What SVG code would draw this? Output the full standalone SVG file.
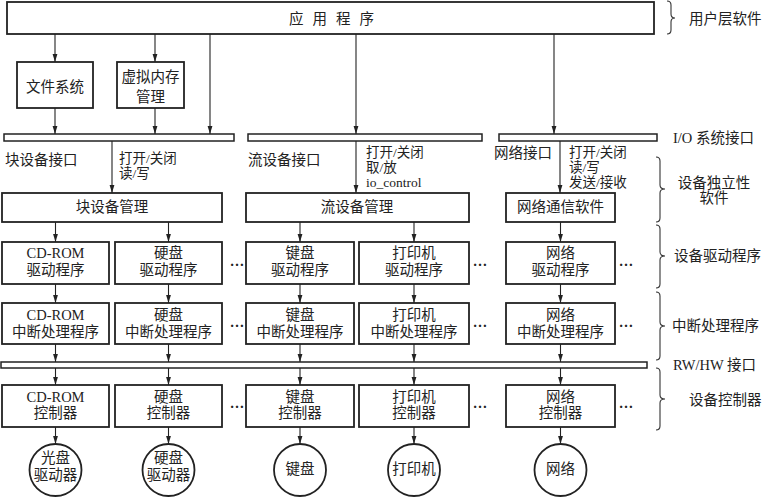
<svg xmlns="http://www.w3.org/2000/svg" width="764" height="497" viewBox="0 0 764 497">
<style>
.b{fill:#fff;stroke:#222;stroke-width:1.8}
.bar{fill:#fff;stroke:#222;stroke-width:1.5}
.l{stroke:#222;stroke-width:1.1;fill:none}
.br{stroke:#333;stroke-width:1.1;fill:none}
text{font-family:"Liberation Serif","Noto Sans CJK SC",serif;font-size:14.5px;fill:#222}
.s{font-size:13.5px}
.c{text-anchor:middle}
.d{font-weight:bold}
</style>
<defs>
<marker id="ah" viewBox="0 0 8 8" refX="8" refY="4" markerWidth="8" markerHeight="8" markerUnits="userSpaceOnUse" orient="auto"><path d="M0,1.6 L8,4 L0,6.4 z" fill="#222"/></marker>
</defs>
<rect width="764" height="497" fill="#fff"/>

<g id="app"><rect class="b" x="7" y="2" width="647" height="32"/><text x="289" y="24" letter-spacing="9">应用程序</text></g>
<g id="fs"><rect class="b" x="17" y="62" width="76" height="46"/><text class="c" x="55" y="92">文件系统</text></g>
<g id="vm"><rect class="b" x="117" y="62" width="67" height="46"/><text class="c" x="150.5" y="82">虚拟内存</text><text class="c" x="150.5" y="102">管理</text></g>

<g id="bar1"><rect class="bar" x="4" y="134" width="230" height="7"/></g>
<g id="bar2"><rect class="bar" x="248" y="134" width="234" height="7"/></g>
<g id="bar3"><rect class="bar" x="499" y="134" width="158" height="7"/></g>

<g id="lbl-block"><text x="5" y="165">块设备接口</text><text class="s" x="119" y="163">打开/关闭</text><text class="s" x="119" y="178">读/写</text></g>
<g id="lbl-stream"><text x="248" y="165">流设备接口</text><text class="s" x="366" y="157">打开/关闭</text><text class="s" x="366" y="172">取/放</text><text class="s" x="366" y="187">io_control</text></g>
<g id="lbl-net"><text x="494" y="158">网络接口</text><text class="s" x="569" y="157">打开/关闭</text><text class="s" x="569" y="172">读/写</text><text class="s" x="569" y="187">发送/接收</text></g>

<g id="blkmgr"><rect class="b" x="2" y="193" width="220" height="29"/><text class="c" x="112" y="212">块设备管理</text></g>
<g id="strmgr"><rect class="b" x="246" y="193" width="223" height="29"/><text class="c" x="357" y="212">流设备管理</text></g>
<g id="netsw"><rect class="b" x="506" y="193" width="109" height="29"/><text class="c" x="560.5" y="212">网络通信软件</text></g>

<g id="drv-cd"><rect class="b" x="2" y="242" width="107" height="42"/><text class="c" x="55.5" y="258">CD-ROM</text><text class="c" x="55.5" y="275">驱动程序</text></g>
<g id="drv-hd"><rect class="b" x="115" y="242" width="107" height="42"/><text class="c" x="168.5" y="258">硬盘</text><text class="c" x="168.5" y="275">驱动程序</text></g>
<g id="drv-kb"><rect class="b" x="246" y="242" width="108" height="42"/><text class="c" x="300" y="258">键盘</text><text class="c" x="300" y="275">驱动程序</text></g>
<g id="drv-pr"><rect class="b" x="359" y="242" width="110" height="42"/><text class="c" x="414" y="258">打印机</text><text class="c" x="414" y="275">驱动程序</text></g>
<g id="drv-net"><rect class="b" x="506" y="242" width="109" height="42"/><text class="c" x="560.5" y="258">网络</text><text class="c" x="560.5" y="275">驱动程序</text></g>

<g id="int-cd"><rect class="b" x="2" y="303" width="107" height="41"/><text class="c" x="55.5" y="320">CD-ROM</text><text class="c" x="55.5" y="337">中断处理程序</text></g>
<g id="int-hd"><rect class="b" x="115" y="303" width="107" height="41"/><text class="c" x="168.5" y="320">硬盘</text><text class="c" x="168.5" y="337">中断处理程序</text></g>
<g id="int-kb"><rect class="b" x="246" y="303" width="108" height="41"/><text class="c" x="300" y="320">键盘</text><text class="c" x="300" y="337">中断处理程序</text></g>
<g id="int-pr"><rect class="b" x="359" y="303" width="110" height="41"/><text class="c" x="414" y="320">打印机</text><text class="c" x="414" y="337">中断处理程序</text></g>
<g id="int-net"><rect class="b" x="506" y="303" width="109" height="41"/><text class="c" x="560.5" y="320">网络</text><text class="c" x="560.5" y="337">中断处理程序</text></g>

<g id="rwhw"><rect class="bar" x="1" y="362" width="646" height="6"/></g>

<g id="ctl-cd"><rect class="b" x="2" y="385" width="107" height="42"/><text class="c" x="55.5" y="402">CD-ROM</text><text class="c" x="55.5" y="418">控制器</text></g>
<g id="ctl-hd"><rect class="b" x="115" y="385" width="107" height="42"/><text class="c" x="168.5" y="402">硬盘</text><text class="c" x="168.5" y="418">控制器</text></g>
<g id="ctl-kb"><rect class="b" x="246" y="385" width="108" height="42"/><text class="c" x="300" y="402">键盘</text><text class="c" x="300" y="418">控制器</text></g>
<g id="ctl-pr"><rect class="b" x="359" y="385" width="110" height="42"/><text class="c" x="414" y="402">打印机</text><text class="c" x="414" y="418">控制器</text></g>
<g id="ctl-net"><rect class="b" x="506" y="385" width="109" height="42"/><text class="c" x="560.5" y="402">网络</text><text class="c" x="560.5" y="418">控制器</text></g>

<g id="dev-cd"><circle class="b" cx="55.5" cy="470" r="26"/><text class="c" x="55.5" y="463">光盘</text><text class="c" x="55.5" y="480">驱动器</text></g>
<g id="dev-hd"><circle class="b" cx="168.5" cy="470" r="26"/><text class="c" x="168.5" y="463">硬盘</text><text class="c" x="168.5" y="480">驱动器</text></g>
<g id="dev-kb"><circle class="b" cx="300" cy="470" r="26"/><text class="c" x="300" y="474">键盘</text></g>
<g id="dev-pr"><circle class="b" cx="414" cy="470" r="26"/><text class="c" x="414" y="474">打印机</text></g>
<g id="dev-net"><circle class="b" cx="560.5" cy="470" r="26"/><text class="c" x="560.5" y="474">网络</text></g>

<g id="dots">
<text class="c d" x="237" y="266">…</text><text class="c d" x="480" y="266">…</text><text class="c d" x="626" y="266">…</text>
<text class="c d" x="237" y="327">…</text><text class="c d" x="480" y="327">…</text><text class="c d" x="626" y="327">…</text>
<text class="c d" x="237" y="408">…</text><text class="c d" x="480" y="408">…</text><text class="c d" x="626" y="408">…</text>
</g>

<g id="connectors" marker-end="url(#ah)">
<line class="l" x1="55" y1="34" x2="55" y2="62"/>
<line class="l" x1="155" y1="34" x2="155" y2="62"/>
<line class="l" x1="210" y1="34" x2="210" y2="134"/>
<line class="l" x1="55" y1="108" x2="55" y2="134"/>
<line class="l" x1="155" y1="108" x2="155" y2="134"/>
<line class="l" x1="356" y1="34" x2="356" y2="134"/>
<line class="l" x1="554" y1="34" x2="554" y2="134"/>
<line class="l" x1="112" y1="141" x2="112" y2="193"/>
<line class="l" x1="356" y1="141" x2="356" y2="193"/>
<line class="l" x1="560" y1="141" x2="560" y2="193"/>
<line class="l" x1="55.5" y1="222" x2="55.5" y2="242"/>
<line class="l" x1="168.5" y1="222" x2="168.5" y2="242"/>
<line class="l" x1="300" y1="222" x2="300" y2="242"/>
<line class="l" x1="414" y1="222" x2="414" y2="242"/>
<line class="l" x1="560.5" y1="222" x2="560.5" y2="242"/>
<line class="l" x1="55.5" y1="284" x2="55.5" y2="303"/>
<line class="l" x1="168.5" y1="284" x2="168.5" y2="303"/>
<line class="l" x1="300" y1="284" x2="300" y2="303"/>
<line class="l" x1="414" y1="284" x2="414" y2="303"/>
<line class="l" x1="560.5" y1="284" x2="560.5" y2="303"/>
<line class="l" x1="55.5" y1="344" x2="55.5" y2="362"/>
<line class="l" x1="168.5" y1="344" x2="168.5" y2="362"/>
<line class="l" x1="300" y1="344" x2="300" y2="362"/>
<line class="l" x1="414" y1="344" x2="414" y2="362"/>
<line class="l" x1="560.5" y1="344" x2="560.5" y2="362"/>
<line class="l" x1="55.5" y1="368" x2="55.5" y2="385"/>
<line class="l" x1="168.5" y1="368" x2="168.5" y2="385"/>
<line class="l" x1="300" y1="368" x2="300" y2="385"/>
<line class="l" x1="414" y1="368" x2="414" y2="385"/>
<line class="l" x1="560.5" y1="368" x2="560.5" y2="385"/>
<line class="l" x1="55.5" y1="427" x2="55.5" y2="444"/>
<line class="l" x1="168.5" y1="427" x2="168.5" y2="444"/>
<line class="l" x1="300" y1="427" x2="300" y2="444"/>
<line class="l" x1="414" y1="427" x2="414" y2="444"/>
<line class="l" x1="560.5" y1="427" x2="560.5" y2="444"/>
</g>

<g id="braces">
<path class="br" d="M667,1 Q671,1 671,5 L671,14 Q671,18 675,18 Q671,18 671,22 L671,30 Q671,34 667,34"/>
<path class="br" d="M656,157 Q660,157 660,161 L660,185 Q660,189 665,189 Q660,189 660,193 L660,218 Q660,222 656,222"/>
<path class="br" d="M656,225 Q660,225 660,229 L660,252 Q660,256 665,256 Q660,256 660,260 L660,284 Q660,288 656,288"/>
<path class="br" d="M656,292 Q660,292 660,296 L660,322 Q660,326 665,326 Q660,326 660,330 L660,356 Q660,360 656,360"/>
<path class="br" d="M656,368 Q660,368 660,372 L660,395 Q660,399 665,399 Q660,399 660,403 L660,426 Q660,430 656,430"/>
</g>
<g id="layer-labels">
<text x="689" y="24">用户层软件</text>
<text x="673" y="143">I/O 系统接口</text>
<text class="c" x="714" y="188">设备独立性</text>
<text class="c" x="714" y="203">软件</text>
<text x="674" y="261">设备驱动程序</text>
<text x="672" y="331">中断处理程序</text>
<text x="673" y="370">RW/HW 接口</text>
<text x="689" y="405">设备控制器</text>
</g>
</svg>
